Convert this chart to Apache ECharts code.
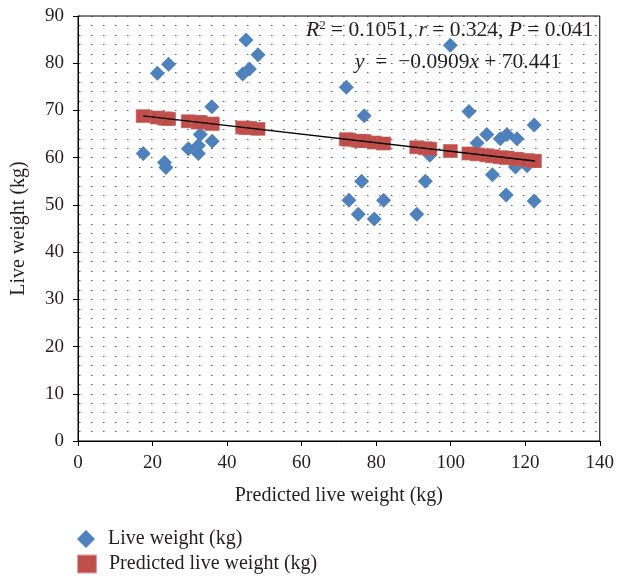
<!DOCTYPE html>
<html>
<head>
<meta charset="utf-8">
<script src="https://cdn.jsdelivr.net/npm/echarts@6/dist/echarts.min.js"></script>
<style>html,body{margin:0;padding:0;background:#fff}#c{width:617px;height:578px}</style>
</head>
<body>
<div id="c"></div>
<script>
// x values (shared by both series)
const xValues = [17.5, 21.3, 23.2, 23.6, 24.3, 29.6, 32.3, 32.3, 32.8, 35.9, 36.0, 44.2, 45.1, 46.0, 48.3,
  72.0, 72.7, 75.2, 76.1, 76.8, 79.5, 82.0, 90.9, 93.2, 94.4, 99.9, 104.9, 107.1, 109.7, 111.2,
  113.3, 114.9, 115.1, 117.4, 117.8, 120.5, 122.4, 122.4];
// Live weight (kg)
const liveWeight = [60.9, 77.9, 59.0, 57.9, 79.8, 61.9, 60.9, 62.6, 64.9, 70.8, 63.5, 77.7, 84.9, 78.8, 81.8,
  74.9, 51.0, 48.0, 55.0, 68.9, 47.0, 51.0, 48.0, 55.0, 60.5, 83.8, 69.8, 63.1, 64.9, 56.4,
  64.0, 52.1, 64.9, 58.0, 64.0, 58.3, 66.9, 50.8];
// Predicted live weight (kg)
const predictedWeight = [68.8, 68.5, 68.3, 68.3, 68.2, 67.7, 67.5, 67.5, 67.5, 67.2, 67.2, 66.4, 66.3, 66.3, 66.1,
  63.9, 63.8, 63.6, 63.5, 63.5, 63.2, 63.0, 62.2, 62.0, 61.9, 61.4, 60.9, 60.7, 60.5, 60.3,
  60.1, 60.0, 60.0, 59.8, 59.7, 59.5, 59.3, 59.3];
// Trend line end points
const trendX = [17.5, 122.6];
const trendY = [68.85, 59.3];

const seriesNames = ['Live weight (kg)', 'Predicted live weight (kg)'];
const xAxisName = 'Predicted live weight (kg)';
const yAxisName = 'Live weight (kg)';

const font = 'Liberation Serif';
const txt = '#231F20';
const dotStyle = { color: '#333', width: 1.2, type: [1.2, 10.8], dashOffset: 10.8 };
const legendText = { fontFamily: font, fontSize: 20, color: txt, padding: [0, 0, 0, 8] };

const chart = echarts.init(document.getElementById('c'), null, { renderer: 'canvas' });
chart.setOption({
  animation: false,
  backgroundColor: '#fff',
  grid: { left: 78, right: 15, top: 16, bottom: 137, show: true, borderColor: '#000', borderWidth: 1, backgroundColor: 'transparent' },
  xAxis: {
    type: 'value', min: 0, max: 140, interval: 20,
    name: xAxisName, nameLocation: 'middle', nameGap: 45,
    nameTextStyle: { fontFamily: font, fontSize: 20, color: txt },
    axisLine: { lineStyle: { color: '#000', width: 1 } },
    axisTick: { show: true, length: 5, lineStyle: { color: '#000' } },
    axisLabel: { fontFamily: font, fontSize: 19, color: txt, margin: 13 },
    splitLine: { show: false }
  },
  yAxis: {
    type: 'value', min: 0, max: 90, interval: 10,
    name: yAxisName, nameLocation: 'middle', nameGap: 49, nameRotate: 90,
    nameTextStyle: { fontFamily: font, fontSize: 20, color: txt },
    axisLine: { show: true, lineStyle: { color: '#000', width: 1 } },
    axisTick: { show: true, length: 5, lineStyle: { color: '#000' } },
    axisLabel: { fontFamily: font, fontSize: 19, color: txt, margin: 14 },
    splitLine: { show: true, lineStyle: dotStyle },
    minorTick: { show: false, splitNumber: 5 },
    minorSplitLine: { show: true, lineStyle: dotStyle }
  },
  legend: [
    {
      orient: 'vertical', left: 72, top: 524,
      itemWidth: 18, itemHeight: 18,
      textStyle: legendText,
      data: [{ name: seriesNames[0], icon: 'diamond' }]
    },
    {
      orient: 'vertical', left: 72, top: 549,
      itemWidth: 18, itemHeight: 17,
      textStyle: legendText,
      data: [{ name: seriesNames[1], icon: 'rect' }]
    }
  ],
  graphic: [
    {
      type: 'text', left: 306, top: 19, z: 100,
      style: {
        text: '{i|R}{s|2}{n| = 0.1051, }{i|r}{n| = 0.324, }{i|P}{n| = 0.041}',
        rich: {
          i: { fontFamily: font, fontSize: 21.5, fontStyle: 'italic', fill: txt },
          n: { fontFamily: font, fontSize: 21.5, fill: txt },
          s: { fontFamily: font, fontSize: 13, fill: txt, verticalAlign: 'top', padding: [0, 0, 10, 0] }
        }
      }
    },
    {
      type: 'text', left: 355, top: 51, z: 100,
      style: {
        text: '{i|y}{n|  =  −0.0909}{i|x}{n| + 70.441}',
        rich: {
          i: { fontFamily: font, fontSize: 21.5, fontStyle: 'italic', fill: txt },
          n: { fontFamily: font, fontSize: 21.5, fill: txt }
        }
      }
    }
  ],
  series: [
    {
      name: seriesNames[0], type: 'scatter', symbol: 'diamond', symbolSize: 15, z: 2,
      itemStyle: { color: '#4F81BD', opacity: 1 },
      data: xValues.map((x, i) => [x, liveWeight[i]])
    },
    {
      name: seriesNames[1], type: 'scatter', symbol: 'rect', symbolSize: [14, 13], z: 3,
      itemStyle: { color: '#BF4E4B', borderColor: 'rgba(200,90,88,0.6)', borderWidth: 1, opacity: 1 },
      data: xValues.map((x, i) => [x, predictedWeight[i]])
    },
    {
      name: 'trend', type: 'line', showSymbol: false, symbol: 'none', z: 4, silent: true,
      lineStyle: { color: '#000', width: 1.5 },
      data: trendX.map((x, i) => [x, trendY[i]])
    }
  ]
});
</script>
</body>
</html>
